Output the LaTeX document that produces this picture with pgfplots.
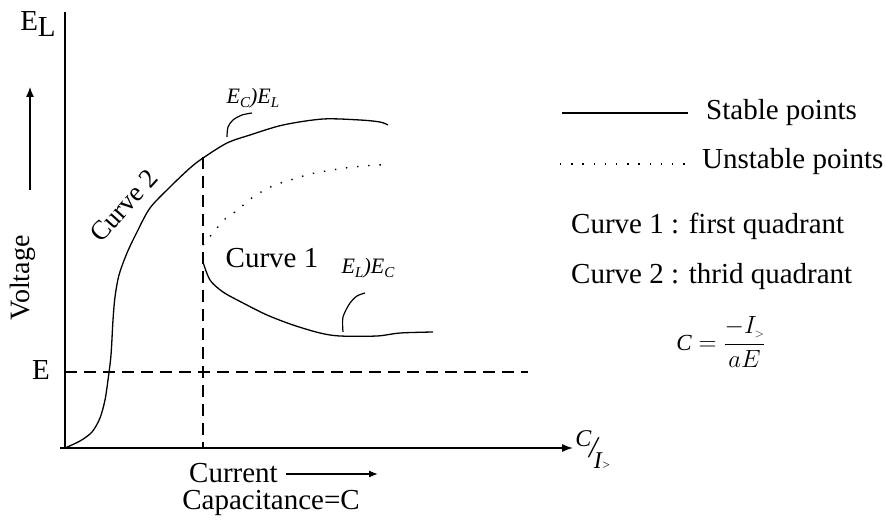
\documentclass[border=0pt]{standalone}
\usepackage{fontspec}
\setmainfont{Liberation Serif}
\usepackage{pgfplots}
\pgfplotsset{compat=1.18}
\usetikzlibrary{arrows.meta}
\newcommand\bigf{\fontsize{29}{32}\selectfont}
\newcommand\smf{\fontsize{22}{24}\selectfont}
\tikzset{t/.style={font=\bigf,inner sep=0pt,anchor=center},
  s/.style={font=\smf,inner sep=0pt,anchor=center}}
\begin{document}
\begin{tikzpicture}
\begin{axis}[width=886pt,height=521pt,scale only axis,
  xmin=0,xmax=886,ymin=0,ymax=521,y dir=reverse,hide axis,clip=false]
\path (axis cs:0,0) rectangle (axis cs:886,521);
% axes
\addplot[black,line width=1.6pt] coordinates {(65,12) (65,448)};
\addplot[black,line width=1.4pt,-{Latex[length=11pt,width=8pt]}] coordinates {(60,448) (573,448)};
% y arrow
\addplot[black,line width=1.2pt,-{Latex[length=10pt,width=8pt]}] coordinates {(30,190) (30,87)};
% dashed guides
\addplot[black,line width=1.2pt,dash pattern=on 12pt off 7pt] coordinates {(65,372) (528,372)};
\addplot[black,line width=1.2pt,dash pattern=on 12pt off 7pt] coordinates {(203,157) (203,448)};
% curve 2
\addplot[black,line width=1.3pt,smooth,tension=0.5] coordinates {
(65,448) (80,441) (92,432) (100,418) (105,400) (108,380) (111,355) (113,320) (115,297) (119,275) (127,253) (137,232) (150,208) (170,187) (190,168) (203,158) (227,143) (250,135) (283,125) (323,119) (360,120) (380,122) (388,125)};
% curve 1 stable
\addplot[black,line width=1.3pt,smooth,tension=0.5] coordinates {
(203,262) (210,280) (223,292) (243,303) (267,315) (293,325) (320,333) (340,336) (377,336) (400,333) (433,332)};
% curve 1 unstable
\addplot[black,line width=1.4pt,smooth,tension=0.5,dash pattern=on 1.4pt off 9.8pt] coordinates {
(203,245) (208,239) (217,228) (225,219) (235,212) (253,197) (263,191) (275,185) (297,178) (310,174) (332,170) (353,167) (377,165) (390,165)};
% annotation arcs
\addplot[black,line width=1.2pt,smooth] coordinates {(343,332) (343,317) (350,303) (357,296) (365,293)};
\addplot[black,line width=1.2pt,smooth] coordinates {(227,137) (228,127) (233,120) (242,115) (252,113)};
% legend lines
\addplot[black,line width=1.3pt] coordinates {(562,113) (688,113)};
\addplot[black,line width=1.4pt,dash pattern=on 1.4pt off 9.8pt] coordinates {(560,164) (686,164)};
% labels
\node[t] at (axis cs:38,24) {E\raisebox{-0.45ex}{L}};
\node[t,font=\fontsize{28}{30}\selectfont,rotate=90] at (axis cs:23,278) {Voltage};
\node[t] at (axis cs:41,370) {E};
\node[t,font=\fontsize{27}{30}\selectfont,rotate=48] at (axis cs:124,206) {Curve 2};
\node[t] at (axis cs:272,258) {Curve 1};
\node[s] at (axis cs:368,268) {\itshape E\raisebox{-0.4ex}{\fontsize{15}{16}\selectfont L})E\raisebox{-0.4ex}{\fontsize{15}{16}\selectfont C}};
\node[s] at (axis cs:253,98) {\itshape E\raisebox{-0.4ex}{\fontsize{15}{16}\selectfont C})E\raisebox{-0.4ex}{\fontsize{15}{16}\selectfont L}};
\node[t,anchor=west] at (axis cs:706,113) {Stable points};
\node[t,anchor=west] at (axis cs:702,162) {Unstable points};
\node[t,anchor=west] at (axis cs:571,226) {Curve 1 : first quadrant};
\node[t,anchor=west] at (axis cs:571,277) {Curve 2 : thrid quadrant};
\node[s,font=\fontsize{23}{26}\selectfont] at (axis cs:721,342) {$\mathit{C}=\displaystyle\frac{-I_{\scriptscriptstyle >}}{aE}$};
\node[s,font=\fontsize{24}{26}\selectfont] at (axis cs:593,450) {\itshape \raisebox{1.0ex}{C}\kern-0.1em{\fontsize{30}{30}\selectfont /}\kern-0.15em\raisebox{-1.0ex}{I\fontsize{13}{13}\selectfont\raisebox{-0.3ex}{>}}};
\node[t,anchor=west] at (axis cs:189,473) {Current};
\addplot[black,line width=1.3pt,-{Latex[length=9pt,width=7pt]}] coordinates {(286,474) (378,474)};
\node[t] at (axis cs:271,503) {Capacitance=C};
\end{axis}
\end{tikzpicture}
\end{document}
